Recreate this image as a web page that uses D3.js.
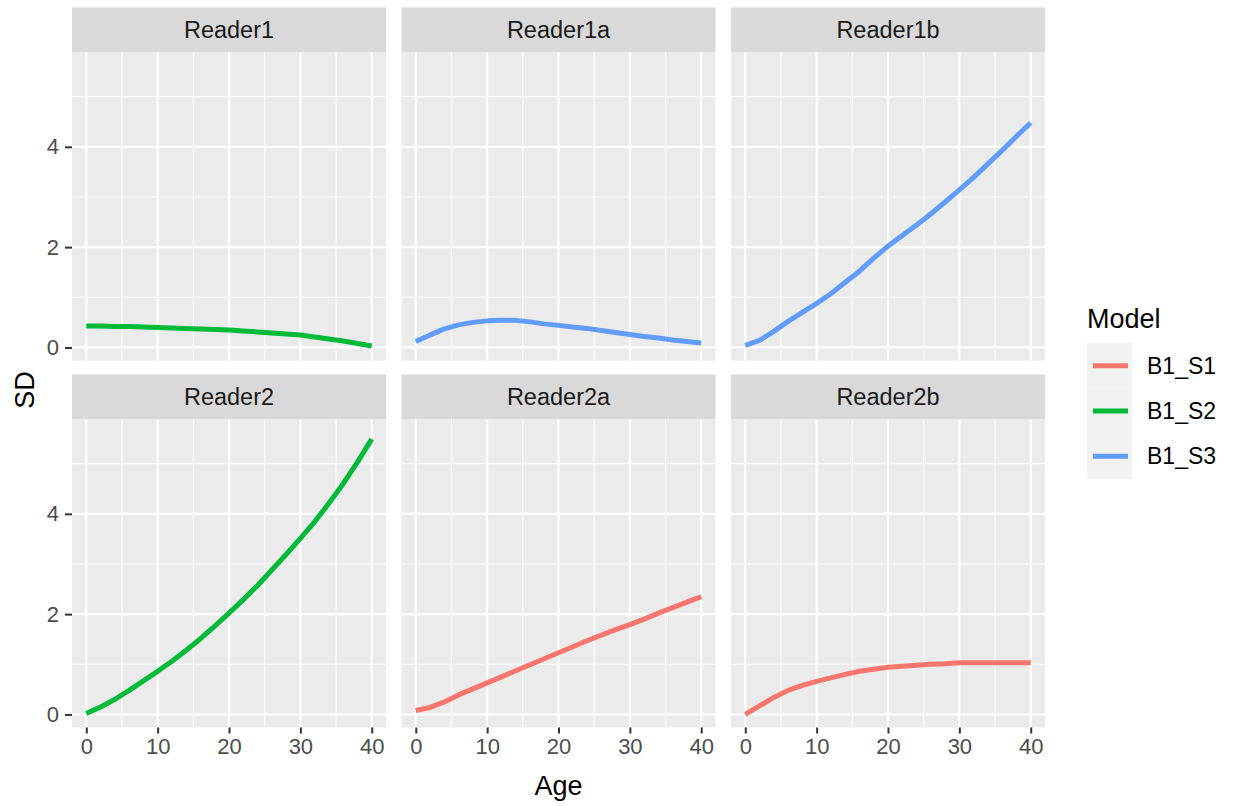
<!DOCTYPE html>
<html lang="en">
<head>
<meta charset="UTF-8">
<title>SD by Age</title>
<style>
  body { margin: 0; background: #fff; }
  svg { display: block; font-family: "Liberation Sans", Arial, sans-serif; }
</style>
</head>
<body>
<svg id="chart" width="1233" height="806"></svg>
<script src="https://cdnjs.cloudflare.com/ajax/libs/d3/7.8.5/d3.min.js"></script>
<script>
// ages sampled along each curve
const ages = [0, 2, 4, 6, 8, 10, 12, 14, 16, 18, 20, 22, 24, 26, 28, 30, 32, 34, 36, 38, 40];

// SD values
const reader1  = [0.43, 0.43, 0.42, 0.42, 0.41, 0.40, 0.39, 0.38, 0.37, 0.36, 0.35, 0.33, 0.31, 0.29, 0.27, 0.25, 0.21, 0.17, 0.13, 0.08, 0.03];
const reader1a = [0.12, 0.25, 0.37, 0.45, 0.50, 0.53, 0.54, 0.54, 0.51, 0.47, 0.44, 0.41, 0.38, 0.34, 0.30, 0.26, 0.22, 0.19, 0.15, 0.12, 0.09];
const reader1b = [0.04, 0.14, 0.32, 0.52, 0.70, 0.88, 1.07, 1.30, 1.52, 1.78, 2.02, 2.23, 2.44, 2.66, 2.90, 3.14, 3.39, 3.66, 3.93, 4.21, 4.48];
const reader2  = [0.02, 0.15, 0.30, 0.48, 0.67, 0.86, 1.06, 1.28, 1.51, 1.76, 2.02, 2.29, 2.57, 2.88, 3.19, 3.51, 3.84, 4.21, 4.60, 5.03, 5.49];
const reader2a = [0.08, 0.14, 0.25, 0.39, 0.51, 0.63, 0.75, 0.87, 0.99, 1.11, 1.23, 1.35, 1.47, 1.58, 1.69, 1.79, 1.90, 2.02, 2.13, 2.24, 2.35];
const reader2b = [0.00, 0.17, 0.34, 0.48, 0.58, 0.66, 0.73, 0.80, 0.86, 0.90, 0.94, 0.96, 0.98, 1.00, 1.01, 1.03, 1.03, 1.03, 1.03, 1.03, 1.03];

const panelNames  = ["Reader1", "Reader1a", "Reader1b", "Reader2", "Reader2a", "Reader2b"];
const panelValues = [reader1, reader1a, reader1b, reader2, reader2a, reader2b];
const panelModels = ["B1_S2", "B1_S3", "B1_S3", "B1_S2", "B1_S1", "B1_S1"];

const models = ["B1_S1", "B1_S2", "B1_S3"];
const modelColors = ["#F8766D", "#00BA38", "#619CFF"];

const xTicks = [0, 10, 20, 30, 40];
const xMinor = [5, 15, 25, 35];
const yTicks = [0, 2, 4];
const yMinor = [1, 3, 5];

const svg = d3.select("#chart");

// layout of the facet grid
const colX = [72, 401.5, 731];
const panelW = 314;
const stripTop = [7.5, 374.5];
const stripH = 45;
const bodyH = 308;

const color = d3.scaleOrdinal().domain(models).range(modelColors);
const x = d3.scaleLinear().domain([-2, 42]).range([0, panelW]);
const y = d3.scaleLinear().domain([-0.26, 5.88]).range([bodyH, 0]);

const line = d3.line()
  .x(d => x(d[0]))
  .y(d => y(d[1]));

panelNames.forEach((name, i) => {
  const row = Math.floor(i / 3), col = i % 3;
  const left = colX[col];
  const top = stripTop[row] + stripH;

  // strip
  svg.append("rect")
    .attr("x", left).attr("y", stripTop[row])
    .attr("width", panelW).attr("height", stripH)
    .attr("fill", "#D9D9D9");
  svg.append("text")
    .attr("x", left + panelW / 2).attr("y", stripTop[row] + stripH / 2)
    .attr("text-anchor", "middle").attr("dominant-baseline", "central")
    .attr("font-size", 23.5).attr("fill", "#1A1A1A")
    .text(name);

  const g = svg.append("g").attr("transform", `translate(${left},${top})`);
  g.append("rect").attr("width", panelW).attr("height", bodyH).attr("fill", "#EBEBEB");

  // minor grid
  g.selectAll(".xmin").data(xMinor).enter().append("line")
    .attr("x1", d => x(d)).attr("x2", d => x(d)).attr("y1", 0).attr("y2", bodyH)
    .attr("stroke", "#fff").attr("stroke-width", 1.1);
  g.selectAll(".ymin").data(yMinor).enter().append("line")
    .attr("y1", d => y(d)).attr("y2", d => y(d)).attr("x1", 0).attr("x2", panelW)
    .attr("stroke", "#fff").attr("stroke-width", 1.1);
  // major grid
  g.selectAll(".xmaj").data(xTicks).enter().append("line")
    .attr("x1", d => x(d)).attr("x2", d => x(d)).attr("y1", 0).attr("y2", bodyH)
    .attr("stroke", "#fff").attr("stroke-width", 2.2);
  g.selectAll(".ymaj").data(yTicks).enter().append("line")
    .attr("y1", d => y(d)).attr("y2", d => y(d)).attr("x1", 0).attr("x2", panelW)
    .attr("stroke", "#fff").attr("stroke-width", 2.2);

  // series
  const pts = ages.map((a, k) => [a, panelValues[i][k]]);
  g.append("path")
    .datum(pts)
    .attr("d", line)
    .attr("fill", "none")
    .attr("stroke", color(panelModels[i]))
    .attr("stroke-width", 5)
    .attr("stroke-linejoin", "round");

  // y axis on the left column
  if (col === 0) {
    const ya = g.append("g").call(d3.axisLeft(y).tickValues(yTicks).tickFormat(d3.format("d")).tickSize(7).tickPadding(6));
    ya.select(".domain").remove();
    ya.selectAll("line").attr("stroke", "#333333").attr("stroke-width", 2);
    ya.selectAll("text").attr("font-size", 22).attr("fill", "#4D4D4D")
      .attr("font-family", "Liberation Sans, Arial, sans-serif");
  }
  // x axis on the bottom row
  if (row === 1) {
    const xa = g.append("g").attr("transform", `translate(0,${bodyH})`)
      .call(d3.axisBottom(x).tickValues(xTicks).tickFormat(d3.format("d")).tickSize(6).tickPadding(5));
    xa.select(".domain").remove();
    xa.selectAll("line").attr("stroke", "#333333").attr("stroke-width", 2);
    xa.selectAll("text").attr("font-size", 22).attr("fill", "#4D4D4D")
      .attr("font-family", "Liberation Sans, Arial, sans-serif");
  }
});

// axis titles
svg.append("text")
  .attr("x", (colX[0] + colX[2] + panelW) / 2).attr("y", 795)
  .attr("text-anchor", "middle").attr("font-size", 27).attr("fill", "#000")
  .text("Age");
svg.append("text")
  .attr("transform", "translate(34,390) rotate(-90)")
  .attr("text-anchor", "middle").attr("font-size", 27).attr("fill", "#000")
  .text("SD");

// legend
const legend = svg.append("g").attr("transform", "translate(1087,0)");
legend.append("text").attr("x", 0).attr("y", 328)
  .attr("font-size", 27).attr("fill", "#000").text("Model");
const keyTop = 343, keyH = 45.3;
models.forEach((m, k) => {
  const cy = keyTop + keyH * k + keyH / 2;
  legend.append("rect")
    .attr("x", 0).attr("y", keyTop + keyH * k)
    .attr("width", 45).attr("height", keyH)
    .attr("fill", "#F2F2F2");
  legend.append("line")
    .attr("x1", 6).attr("x2", 41).attr("y1", cy).attr("y2", cy)
    .attr("stroke", color(m)).attr("stroke-width", 5);
  legend.append("text")
    .attr("x", 60).attr("y", cy).attr("dominant-baseline", "central")
    .attr("font-size", 23).attr("fill", "#000").text(m);
});
</script>
</body>
</html>
